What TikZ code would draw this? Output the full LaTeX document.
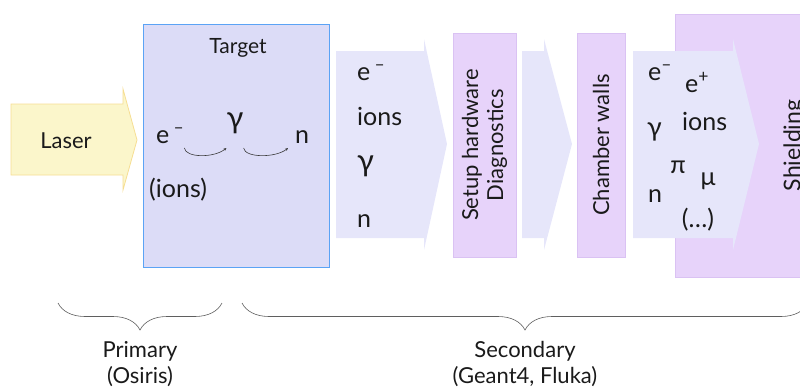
\documentclass[tikz,border=0pt]{standalone}
\usepackage{fontspec}
\setmainfont{Lato}
\usetikzlibrary{calc,arrows.meta,decorations.pathreplacing}

\definecolor{ink}{HTML}{1A1A1A}
\definecolor{laserfill}{HTML}{FBF6CB}
\definecolor{laserdraw}{HTML}{F6DE93}
\definecolor{targetfill}{HTML}{DCDCF7}
\definecolor{targetdraw}{HTML}{5BA3F5}
\definecolor{flowfill}{HTML}{E6E6FA}
\definecolor{boxfill}{HTML}{E7D3FA}
\definecolor{boxdraw}{HTML}{DAC2F3}

\begin{document}
\begin{tikzpicture}
  [x=1pt,y=-1pt,every node/.style={text=ink,inner sep=0pt},
   lbl/.style={font=\fontsize{22}{26}\selectfont},
   part/.style={font=\fontsize{25}{28}\selectfont,anchor=base west},
   greek/.style={font=\fontsize{31}{33}\selectfont,anchor=base},
   purplebox/.style={draw=boxdraw,fill=boxfill,line width=0.8pt,rotate=90,
     align=center,font=\fontsize{22}{25}\selectfont},
   flow/.style={fill=flowfill},
   curl/.style={draw=ink!85,line width=0.6pt,-{Stealth[length=3pt,width=2.6pt]}},
   brc/.style={draw=ink!70,line width=0.6pt,decorate,
     decoration={brace,mirror,amplitude=27pt}}]
  \useasboundingbox (0,0) rectangle (800,388);

  % laser pulse
  \filldraw[draw=laserdraw,fill=laserfill,line width=0.8pt]
    (11,104) -- (123,104) -- (123,89) -- (137,140) -- (123,190) -- (123,175) -- (11,175) -- cycle;
  \node[lbl] (laser) at (66,141) {Laser};

  % target
  \node[draw=targetdraw,fill=targetfill,line width=0.8pt,
        minimum width=186pt,minimum height=243pt] (target) at (236,145.5) {};
  \node[font=\fontsize{21}{24}\selectfont] (tlbl) at (238,48) {Target};

  % setup, chamber and shielding
  \node[purplebox,minimum width=224pt,minimum height=63pt] (setup) at (484.5,145) {Setup hardware\\Diagnostics};
  \node[purplebox,minimum width=224pt,minimum height=48pt] (walls) at (601,145) {Chamber walls};
  \node[purplebox,minimum width=263pt,minimum height=238pt,font=\fontsize{23}{26}\selectfont] (shield) at (794,145.5) {Shielding};

  % particle flow arrows
  \foreach \xa/\xb/\xc in {336/424/447, 522/544/572, 633/733/759}
    \fill[flow] (\xa,51) -- (\xb,51) -- (\xb,39) -- (\xc,144) -- (\xb,250) -- (\xb,238) -- (\xa,238) -- cycle;

  % inside the target
  \node[part] (eT) at (156,143) {e\,\textsuperscript{--}};
  \node[greek] (gT) at (235,128) {γ};
  \node[part] (nT) at (295,143) {n};
  \node[part] (iT) at (149,197) {(ions)};
  \draw[curl] ($(eT.base east)+(0,5)$) .. controls +(1,10) and +(-12,10) .. ($(gT.base west)+(0,20)$);
  \draw[curl] ($(gT.base east)+(0,20)$) .. controls +(1,10) and +(-12,10) .. ($(nT.base west)+(-7,5)$);

  % out of the target
  \node[part] (e2) at (357,80) {e\,\textsuperscript{--}};
  \node[part] (i2) at (357,125) {ions};
  \node[greek,anchor=base west] (g2) at (357,171) {γ};
  \node[part] (n2) at (357,227) {n};

  % out of the chamber
  \node[part] (e4) at (648,80) {e\textsuperscript{--}};
  \node[part] (p4) at (685,92) {e\textsuperscript{+}};
  \node[greek,anchor=base west,font=\fontsize{27}{29}\selectfont] (g4) at (647,136) {γ};
  \node[part] (i4) at (682,130) {ions};
  \node[part,anchor=base] (pi4) at (678,173) {π};
  \node[part,anchor=base] (mu4) at (708,185) {μ};
  \node[part] (n4) at (648,202) {n};
  \node[part,anchor=base] (etc4) at (698,227) {(…)};

  % codes
  \coordinate (pa) at (58,303);
  \coordinate (pb) at (222,303);
  \coordinate (sa) at (242,303);
  \coordinate (sb) at (808,303);
  \draw[brc] (pa) -- (pb);
  \draw[brc] (sa) -- (sb);
  \node[lbl,anchor=base] (prim) at (140,357) {Primary};
  \node[lbl,anchor=base] (osi) at (140,383) {(Osiris)};
  \node[lbl,anchor=base] (sec) at (525,357) {Secondary};
  \node[lbl,anchor=base] (g4f) at (525,383) {(Geant4, Fluka)};
\end{tikzpicture}
\end{document}
